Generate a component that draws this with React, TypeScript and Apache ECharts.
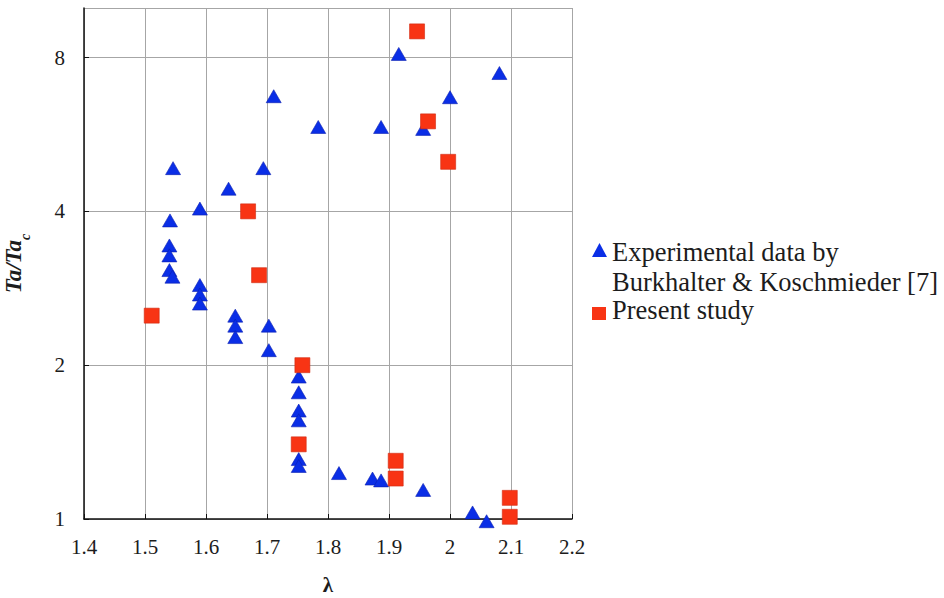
import React, { useEffect, useRef } from 'react';
import * as echarts from 'echarts';

// Burkhalter & Koschmieder [7]: wavelength λ vs. Ta/Ta_c
const lambdaExperimental = [
  1.711, 1.784, 1.546, 1.694, 1.637, 1.590, 1.541, 1.540, 1.540, 1.540, 1.545, 1.590,
  1.590, 1.590, 1.916, 2.081, 2.000, 1.887, 1.956, 1.648, 1.648, 1.648, 1.703, 1.703,
  1.752, 1.752, 1.752, 1.752, 1.752, 1.752, 1.818, 1.873, 1.887, 1.956, 2.037, 2.060,
];
const ratioExperimental = [
  6.72, 5.85, 4.86, 4.86, 4.43, 4.05, 3.84, 3.43, 3.28, 3.07, 2.98, 2.87,
  2.75, 2.64, 8.13, 7.46, 6.69, 5.85, 5.80, 2.50, 2.39, 2.27, 2.39, 2.14,
  1.90, 1.77, 1.63, 1.56, 1.31, 1.27, 1.23, 1.20, 1.19, 1.14, 1.03, 0.99,
];

// Present study
const lambdaPresent = [1.946, 1.964, 1.997, 1.669, 1.687, 1.511, 1.758, 1.752, 1.911, 1.911, 2.098, 2.098];
const ratioPresent = [9.0, 6.0, 5.0, 4.0, 3.0, 2.5, 2.0, 1.4, 1.3, 1.2, 1.1, 1.01];

const legendLabels = ['Experimental data by\nBurkhalter & Koschmieder [7]', 'Present study'];

const BLUE = '#0a2ee6';
const RED = '#f83414';
const SERIF = 'Liberation Serif';
const TEXT = '#1c1c1c';

const pairs = (xs: number[], ys: number[]) => xs.map((x, i) => [x, ys[i]]);

export default function App() {
  const ref = useRef<HTMLDivElement>(null);

  useEffect(() => {
    if (!ref.current) return;
    const chart = echarts.init(ref.current, null, { renderer: 'svg' });
    chart.setOption({
      animation: false,
      backgroundColor: '#ffffff',
      textStyle: { fontFamily: SERIF },
      grid: {
        left: 84, right: 372, top: 8, bottom: 79,
        containLabel: false, outerBoundsMode: 'none',
      },
      xAxis: {
        type: 'value',
        min: 1.4,
        max: 2.2,
        interval: 0.1,
        name: 'λ',
        nameLocation: 'middle',
        nameGap: 55,
        nameTextStyle: { fontFamily: SERIF, fontSize: 21, fontWeight: 'bold', color: TEXT },
        axisLine: { show: true, lineStyle: { color: '#111', width: 1.5 } },
        axisTick: { show: true, inside: true, length: 5, lineStyle: { color: '#111' } },
        axisLabel: { fontFamily: SERIF, fontSize: 21, color: TEXT, margin: 17 },
        splitLine: { show: true, lineStyle: { color: '#a6a6a6', width: 1 } },
      },
      yAxis: {
        type: 'log',
        logBase: 2,
        min: 1,
        max: 10,
        name: '{main|Ta/Ta}{sub|c}',
        nameLocation: 'middle',
        nameGap: 52,
        nameTextStyle: {
          fontFamily: SERIF,
          rich: {
            main: {
              fontFamily: SERIF, fontSize: 23, fontWeight: 'bold', fontStyle: 'italic',
              color: TEXT, lineHeight: 30, verticalAlign: 'top',
            },
            sub: {
              fontFamily: SERIF, fontSize: 14, fontWeight: 'bold', fontStyle: 'italic',
              color: TEXT, lineHeight: 14, verticalAlign: 'bottom',
            },
          },
        },
        axisLine: { show: true, lineStyle: { color: '#111', width: 1.5 } },
        axisTick: { show: true, inside: true, length: 5, lineStyle: { color: '#111' } },
        axisLabel: { fontFamily: SERIF, fontSize: 21, color: TEXT, margin: 19, showMaxLabel: false },
        splitLine: { show: true, lineStyle: { color: '#a6a6a6', width: 1 } },
      },
      series: [
        {
          name: legendLabels[0],
          type: 'scatter',
          clip: false,
          symbol: 'triangle',
          symbolSize: [15, 13],
          itemStyle: { color: BLUE, opacity: 1, borderColor: '#0a1fb0', borderWidth: 0.6 },
          data: pairs(lambdaExperimental, ratioExperimental),
        },
        {
          name: legendLabels[1],
          type: 'scatter',
          clip: false,
          symbol: 'rect',
          symbolSize: 15,
          itemStyle: { color: RED, opacity: 1, borderColor: '#d02a10', borderWidth: 0.6 },
          data: pairs(lambdaPresent, ratioPresent),
        },
      ],
      graphic: [
        {
          type: 'polygon',
          shape: { points: [[592, 257], [607, 257], [599.5, 243]] },
          style: { fill: BLUE },
        },
        {
          type: 'text',
          x: 612,
          y: 237,
          style: {
            text: legendLabels[0],
            fontFamily: SERIF,
            fontSize: 26.5,
            lineHeight: 30,
            fill: TEXT,
            verticalAlign: 'top',
          },
        },
        {
          type: 'rect',
          shape: { x: 592, y: 307, width: 14, height: 13 },
          style: { fill: RED },
        },
        {
          type: 'text',
          x: 612,
          y: 295,
          style: {
            text: legendLabels[1],
            fontFamily: SERIF,
            fontSize: 26.5,
            lineHeight: 30,
            fill: TEXT,
            verticalAlign: 'top',
          },
        },
      ],
    });
    return () => chart.dispose();
  }, []);

  return (
    <div
      ref={ref}
      style={{ position: 'fixed', left: 0, top: 0, width: 944, height: 598 }}
    />
  );
}
